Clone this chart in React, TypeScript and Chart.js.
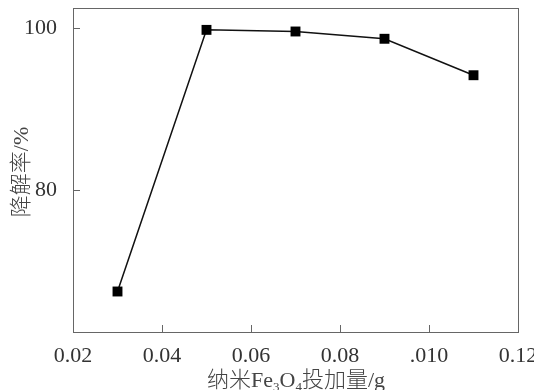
import React, { useEffect, useRef } from "react";
import { Chart, registerables } from "chart.js";

Chart.register(...registerables);

const doses = [0.03, 0.05, 0.07, 0.09, 0.11];
const rates = [67.5, 99.8, 99.6, 98.7, 94.2];
const xTickValues = [0.02, 0.04, 0.06, 0.08, 0.1, 0.12];
const xTickLabels = ["0.02", "0.04", "0.06", "0.08", ".010", "0.12"];
const yTickValues = [80, 100];
const yTitle = "降解率/%";
const xTitleParts = [
  { t: "纳米Fe", sub: false },
  { t: "3", sub: true },
  { t: "O", sub: false },
  { t: "4", sub: true },
  { t: "投加量/g", sub: false },
];

const FONT = "'Liberation Serif', 'Times New Roman', 'Noto Sans CJK SC', serif";
const TEXT = "#333";
const AXIS = "#666";

const framePlugin = {
  id: "frame",
  afterDraw(chart: any) {
    const { ctx, chartArea } = chart;
    const { left, right, top, bottom } = chartArea;
    const xs = chart.scales.x;
    const ys = chart.scales.y;
    ctx.save();
    ctx.strokeStyle = AXIS;
    ctx.lineWidth = 1;
    ctx.strokeRect(Math.round(left) + 0.5, Math.round(top) + 0.5, Math.round(right - left), Math.round(bottom - top));
    ctx.beginPath();
    xTickValues.forEach((v) => {
      const px = Math.round(xs.getPixelForValue(v)) + 0.5;
      ctx.moveTo(px, bottom);
      ctx.lineTo(px, bottom - 7);
    });
    yTickValues.forEach((v) => {
      const py = Math.round(ys.getPixelForValue(v)) + 0.5;
      ctx.moveTo(left, py);
      ctx.lineTo(left + 7, py);
    });
    ctx.stroke();

    // y title (rotated)
    ctx.fillStyle = "#444";
    ctx.font = `300 22px ${FONT}`;
    ctx.translate(22, 172);
    ctx.rotate(-Math.PI / 2);
    ctx.textAlign = "center";
    ctx.textBaseline = "middle";
    ctx.fillText(yTitle, 0, 0);
    ctx.restore();

    // x title with subscripts
    ctx.save();
    ctx.fillStyle = "#444";
    ctx.textBaseline = "alphabetic";
    ctx.textAlign = "left";
    const mainFont = `300 22px ${FONT}`;
    const subFont = `300 13px ${FONT}`;
    let total = 0;
    xTitleParts.forEach((p) => {
      ctx.font = p.sub ? subFont : mainFont;
      total += ctx.measureText(p.t).width;
    });
    let x = 296 - total / 2;
    const baseY = 387;
    xTitleParts.forEach((p) => {
      ctx.font = p.sub ? subFont : mainFont;
      ctx.fillText(p.t, x, p.sub ? baseY + 4 : baseY);
      x += ctx.measureText(p.t).width;
    });
    ctx.restore();
  },
};

export default function App() {
  const ref = useRef<HTMLCanvasElement>(null);
  useEffect(() => {
    document.body.style.margin = "0";
    const chart = new Chart(ref.current!, {
      type: "line",
      data: {
        datasets: [
          {
            data: doses.map((d, i) => ({ x: d, y: rates[i] })),
            borderColor: "#111",
            backgroundColor: "#000",
            borderWidth: 1.5,
            pointStyle: "rect",
            pointRadius: 7,
            pointBorderWidth: 0,
            tension: 0,
          },
        ],
      },
      options: {
        responsive: false,
        animation: false,
        layout: { autoPadding: false, padding: { top: 8, right: 16, left: 0, bottom: 0 } } as any,
        plugins: { legend: { display: false }, tooltip: { enabled: false } },
        scales: {
          x: {
            type: "linear",
            min: 0.02,
            max: 0.12,
            grid: { display: false },
            border: { display: false },
            afterBuildTicks: (s: any) => {
              s.ticks = xTickValues.map((v) => ({ value: v }));
            },
            afterFit: (s: any) => {
              s.height = 58;
              s.paddingLeft = 0;
              s.paddingRight = 0;
            },
            ticks: {
              color: TEXT,
              font: { family: FONT, size: 22 },
              padding: 3,
              maxRotation: 0,
              autoSkip: false,
              callback: (v: any) => {
                const i = xTickValues.findIndex((t) => Math.abs(t - v) < 1e-9);
                return i >= 0 ? xTickLabels[i] : "";
              },
            },
          },
          y: {
            type: "linear",
            min: 62.5,
            max: 102.5,
            grid: { display: false },
            border: { display: false },
            afterBuildTicks: (s: any) => {
              s.ticks = yTickValues.map((v) => ({ value: v }));
            },
            afterFit: (s: any) => {
              s.width = 73;
              s.paddingTop = 0;
              s.paddingBottom = 0;
            },
            ticks: {
              color: TEXT,
              font: { family: FONT, size: 22 },
              padding: 8,
            },
          },
        },
      },
      plugins: [framePlugin],
    });
    return () => chart.destroy();
  }, []);
  return <canvas ref={ref} width={534} height={390} style={{ display: "block" }} />;
}
